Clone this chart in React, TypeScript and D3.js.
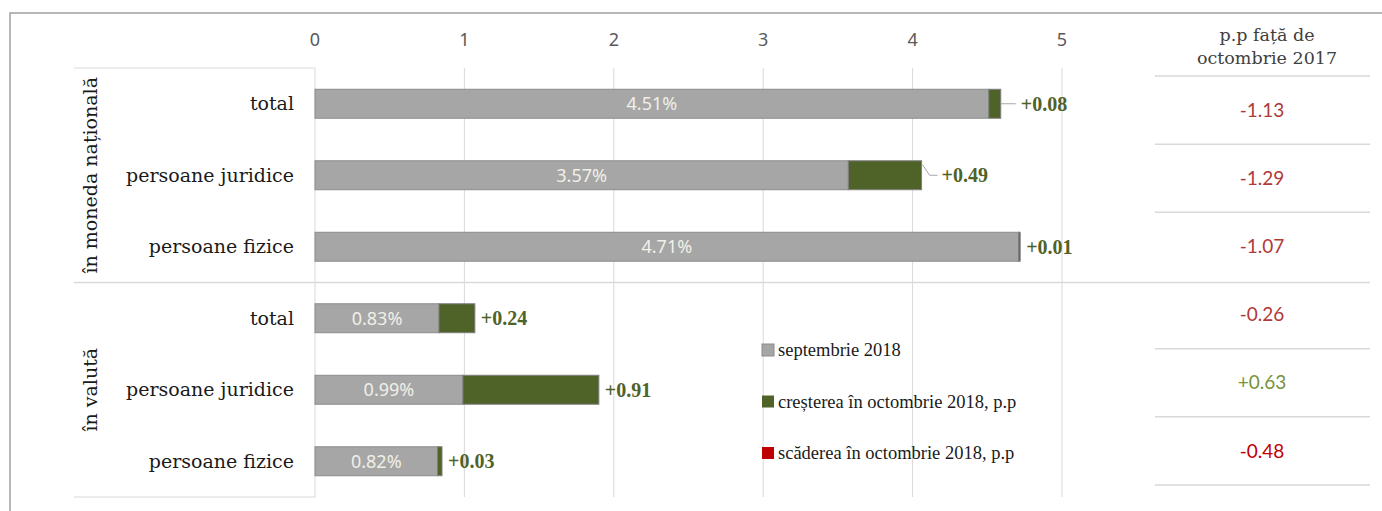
import React from 'react';
import * as d3 from 'd3';

// categories
const groups = ['în moneda națională', 'în valută'];
const rowLabels = ['total', 'persoane juridice', 'persoane fizice', 'total', 'persoane juridice', 'persoane fizice'];

// series
const september = [4.51, 3.57, 4.71, 0.83, 0.99, 0.82];
const increase = [0.08, 0.49, 0.01, 0.24, 0.91, 0.03];
const vsOct2017 = [-1.13, -1.29, -1.07, -0.26, 0.63, -0.48];

const xTicks = [0, 1, 2, 3, 4, 5];
const legendItems = ['septembrie 2018', 'creșterea în octombrie 2018, p.p', 'scăderea în octombrie 2018, p.p'];

const GREY = '#a6a6a6';
const GREEN = '#4f6228';
const RED = '#c00000';
const SERIF = "'DejaVu Serif', serif";
const SANS = "'Noto Sans', sans-serif";

const App = () => {
  const width = 1382;
  const height = 511;
  const plotTop = 68;
  const plotBottom = 497;
  const ids = rowLabels.map((_, i) => String(i));

  const x = d3.scaleLinear().domain([0, 5]).range([315, 1062]);
  const y = d3.scaleBand().domain(ids).range([plotTop, plotBottom]).paddingInner(0.595).paddingOuter(0.2975);
  const step = y.step();
  // right-hand table rows
  const t = d3.scaleBand().domain(ids).range([76, 485]);

  const fmt = (v: number) => v.toFixed(2);
  const leaderRows = [0, 1];
  const divY = plotTop + step * 3;

  return (
    <div style={{ position: 'fixed', left: 0, top: 0 }}>
      <svg width={width} height={height} style={{ display: 'block', background: '#fff' }}>
        <rect x={10} y={13} width={1390} height={520} fill="none" stroke="#a0a0a0" strokeWidth={1.5} />

        {/* gridlines */}
        {xTicks.slice(1).map(d => (
          <line key={d} x1={x(d)} x2={x(d)} y1={plotTop} y2={plotBottom} stroke="#d9d9d9" />
        ))}
        {xTicks.map(d => (
          <text key={d} x={x(d)} y={46} textAnchor="middle" fontFamily={SANS} fontSize={18} fill="#595959">{d}</text>
        ))}

        {/* category box */}
        <path d={`M74,${plotTop}H${x(0)}V${plotBottom}H74`} fill="none" stroke="#d9d9d9" />
        <line x1={74} x2={1370} y1={divY} y2={divY} stroke="#d9d9d9" strokeWidth={1.5} />

        {groups.map((g, gi) => {
          const cy = plotTop + step * (gi * 3 + 1.5);
          return (
            <text key={g} transform={`translate(97,${cy}) rotate(-90)`} textAnchor="middle" fontFamily={SERIF} fontSize={19} fill="#1a1a1a">{g}</text>
          );
        })}

        {rowLabels.map((l, i) => (
          <text key={i} x={294} y={y(ids[i])! + y.bandwidth() / 2} dy="0.35em" textAnchor="end" fontFamily={SERIF} fontSize={19} fill="#1a1a1a">{l}</text>
        ))}

        {/* bars */}
        {ids.map((id, i) => {
          const by = y(id)!;
          const bh = y.bandwidth();
          const x0 = x(0);
          const x1 = x(september[i]);
          const x2 = x(september[i] + increase[i]);
          const cy = by + bh / 2;
          const leader = leaderRows.includes(i);
          const lx = leader ? x2 + 20 : x2 + 6;
          return (
            <g key={id}>
              <rect x={x0} y={by} width={x1 - x0} height={bh} fill={GREY} stroke="#8c8c8c" />
              <rect x={x1} y={by} width={x2 - x1} height={bh} fill={GREEN} stroke="#7f7f7f" />
              <text x={(x0 + x1) / 2} y={cy} dy="0.36em" textAnchor="middle" fontFamily={SANS} fontSize={18} fill="#f0f0e6">{fmt(september[i])}%</text>
              {leader && i === 0 && <line x1={x2} x2={x2 + 15} y1={cy} y2={cy} stroke="#a6a6a6" />}
              {leader && i === 1 && <polyline points={`${x2 + 1},${by + 4} ${x2 + 8},${cy} ${x2 + 16},${cy}`} fill="none" stroke="#a6a6a6" />}
              <text x={lx} y={cy} dy="0.35em" fontFamily="'Liberation Serif', serif" fontWeight="bold" fontSize={20} fill={GREEN}>+{fmt(increase[i])}</text>
            </g>
          );
        })}

        {/* legend */}
        {legendItems.map((l, i) => {
          const ly = 350 + i * 51.5;
          const fill = [GREY, GREEN, RED][i];
          return (
            <g key={l}>
              <rect x={762} y={ly - 6} width={12} height={12} fill={fill} stroke={i === 0 ? '#8c8c8c' : 'none'} />
              <text x={778} y={ly} dy="0.35em" fontFamily="'Liberation Serif', serif" fontSize={18.5} fill="#1a1a1a">{l}</text>
            </g>
          );
        })}

        {/* right table */}
        <text x={1267} y={41} textAnchor="middle" fontFamily={SERIF} fontSize={17.5} fill="#404040">p.p față de</text>
        <text x={1267} y={64} textAnchor="middle" fontFamily={SERIF} fontSize={17.5} fill="#404040">octombrie 2017</text>
        {[0, 1, 2, 4, 5, 6].map(k => {
          const ly = k < 6 ? t(ids[k])! : t.range()[1];
          return <line key={k} x1={1155} x2={1370} y1={ly} y2={ly} stroke="#d9d9d9" strokeWidth={1.5} />;
        })}
        {vsOct2017.map((v, i) => (
          <text key={i} x={1262} y={t(ids[i])! + t.bandwidth() / 2} dy="0.35em" textAnchor="middle" fontFamily="'Lato', sans-serif" fontSize={19}
            fill={v > 0 ? '#77933c' : i === 5 ? RED : '#b03a3a'}>{v > 0 ? '+' : ''}{fmt(v)}</text>
        ))}
      </svg>
    </div>
  );
};

export default App;
